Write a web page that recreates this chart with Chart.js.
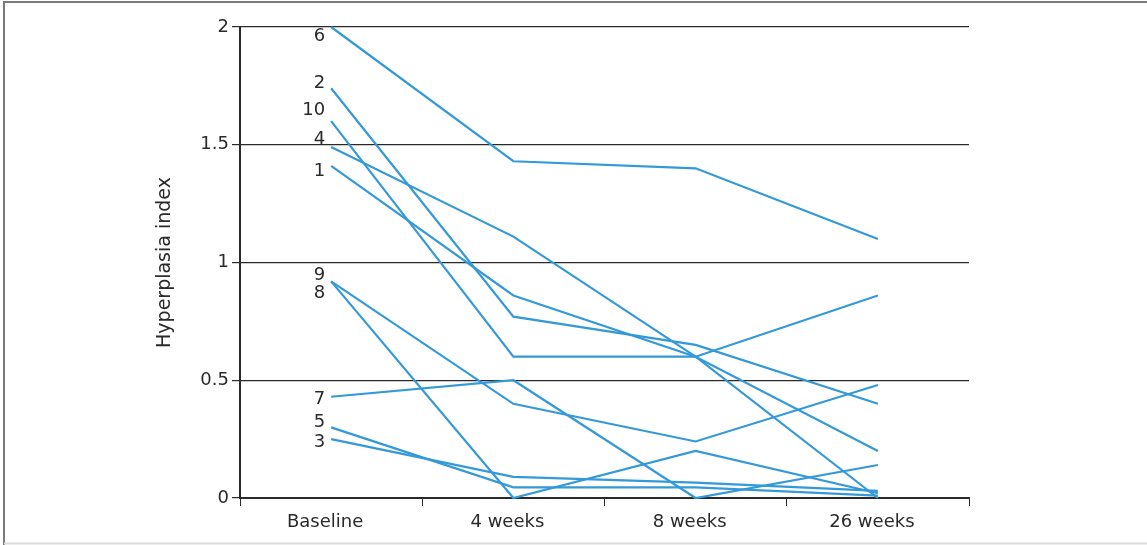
<!DOCTYPE html>
<html>
<head>
<meta charset="utf-8">
<script src="https://cdn.jsdelivr.net/npm/chart.js@4/dist/chart.umd.min.js"></script>
<style>
  html, body { margin: 0; padding: 0; background: #fff; }
  #wrap { width: 1147px; height: 545px; }
</style>
</head>
<body>
<div id="wrap"><canvas id="c" width="1147" height="545"></canvas></div>
<script>
// ---- data ----
const categories = ['Baseline', '4 weeks', '8 weeks', '26 weeks'];
const yTicks = [0, 0.5, 1, 1.5, 2];
const patientIds = ['1', '2', '3', '4', '5', '6', '7', '8', '9', '10'];
const p1  = [1.41, 0.86, 0.60, 0.20];
const p2  = [1.74, 0.77, 0.65, 0.40];
const p3  = [0.25, 0.09, 0.065, 0.03];
const p4  = [1.49, 1.11, 0.60, 0.00];
const p5  = [0.30, 0.045, 0.045, 0.01];
const p6  = [2.00, 1.43, 1.40, 1.10];
const p7  = [0.43, 0.50, 0.00, 0.14];
const p8  = [0.92, 0.00, 0.20, 0.02];
const p9  = [0.92, 0.40, 0.24, 0.48];
const p10 = [1.60, 0.60, 0.60, 0.86];
const series = [p1, p2, p3, p4, p5, p6, p7, p8, p9, p10];

// ---- style ----
const LINE = '#3399d8';
const INK = '#2a2a2a';
const FONT = "'DejaVu Sans', 'Open Sans', sans-serif";
const FSIZE = 18;
// vertical pixel nudges of the patient labels relative to each line's start
const labelNudge = [5, -5, 3.5, -8, -5.5, 9, 3, 11.5, -6, -11];

const datasets = series.map((d, i) => ({
  label: patientIds[i],
  data: d,
  borderColor: LINE,
  backgroundColor: LINE,
  borderWidth: 2.2,
  pointRadius: 0,
  pointHoverRadius: 0,
  tension: 0,
  clip: false
}));

const patientLabels = {
  id: 'patientLabels',
  afterDatasetsDraw(chart) {
    const ctx = chart.ctx;
    const xs = chart.scales.x, ys = chart.scales.y;
    ctx.save();
    ctx.font = FSIZE + 'px ' + FONT;
    ctx.fillStyle = INK;
    ctx.textAlign = 'right';
    ctx.textBaseline = 'middle';
    chart.data.datasets.forEach((ds, i) => {
      const x = xs.getPixelForValue(0) - 6;
      const y = ys.getPixelForValue(ds.data[0]) + labelNudge[i];
      ctx.fillText(ds.label, x, y);
    });
    ctx.restore();
  }
};

const frame = {
  id: 'frame',
  afterDraw(chart) {
    const ctx = chart.ctx;
    ctx.save();
    ctx.lineWidth = 2;
    ctx.strokeStyle = '#7a7a7a';
    ctx.beginPath();
    ctx.moveTo(4, 2); ctx.lineTo(1147, 2);
    ctx.stroke();
    ctx.beginPath();
    ctx.moveTo(4, 1); ctx.lineTo(4, 545);
    ctx.stroke();
    ctx.strokeStyle = '#dcdcdc';
    ctx.beginPath();
    ctx.moveTo(4, 543.5); ctx.lineTo(1147, 543.5);
    ctx.stroke();
    ctx.restore();
  }
};

new Chart(document.getElementById('c'), {
  type: 'line',
  data: { labels: categories, datasets },
  options: {
    responsive: false,
    animation: false,
    events: [],
    layout: { padding: { left: 152, right: 178, top: 27, bottom: 0 } },
    plugins: { legend: { display: false }, tooltip: { enabled: false } },
    scales: {
      x: {
        type: 'category',
        offset: true,
        grid: {
          offset: true,
          drawOnChartArea: false,
          drawTicks: true,
          tickLength: 8,
          tickColor: INK,
          tickWidth: 1
        },
        border: { display: true, color: INK, width: 2 },
        ticks: {
          color: INK,
          font: { family: FONT, size: FSIZE },
          padding: 6,
          labelOffset: -6,
          maxRotation: 0
        },
        afterFit(scale) { scale.height = 47; }
      },
      y: {
        min: 0,
        max: 2,
        afterBuildTicks(scale) { scale.ticks = yTicks.map(v => ({ value: v })); },
        grid: {
          color: INK,
          lineWidth: 1.2,
          drawTicks: true,
          tickLength: 8,
          tickColor: INK
        },
        border: { display: true, color: INK, width: 2 },
        ticks: {
          color: INK,
          font: { family: FONT, size: FSIZE },
          padding: 3,
          callback: v => String(v)
        },
        title: {
          display: true,
          text: 'Hyperplasia index',
          color: INK,
          font: { family: FONT, size: 19 },
          padding: { top: 2, bottom: 4 }
        },
        afterFit(scale) { scale.width = 88; }
      }
    }
  },
  plugins: [patientLabels, frame]
});
</script>
</body>
</html>
